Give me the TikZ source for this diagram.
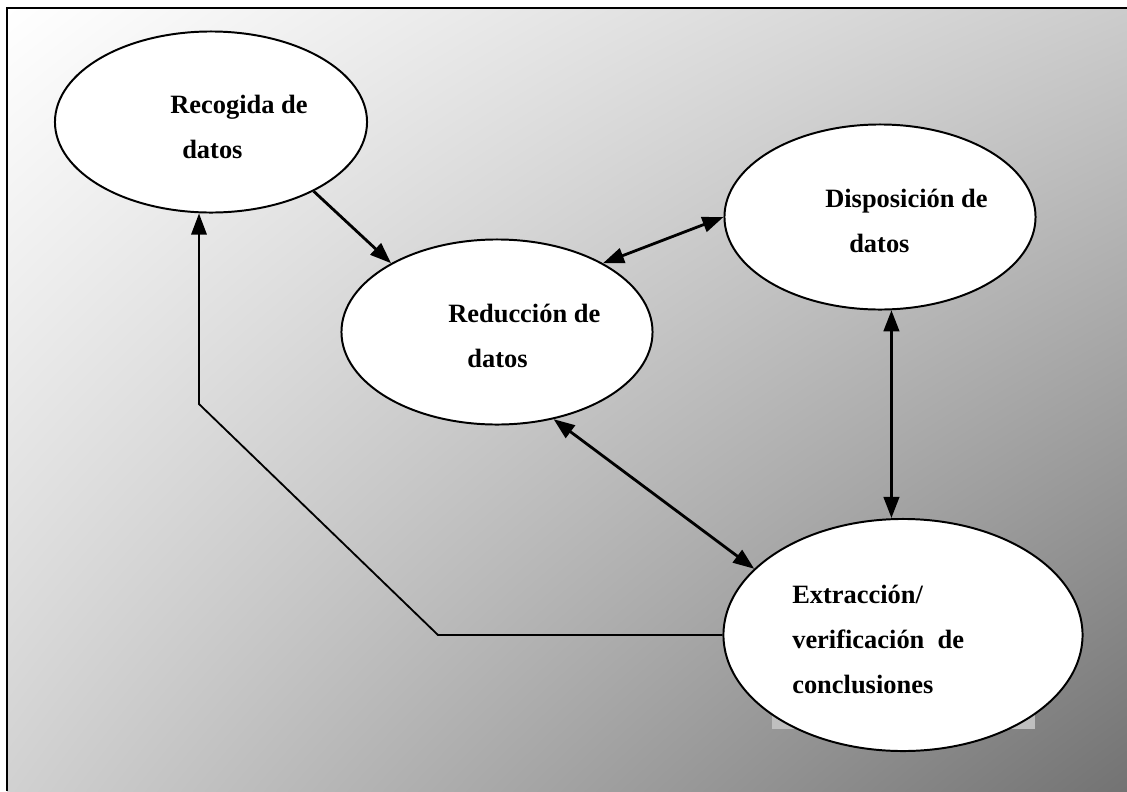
\documentclass[tikz,border=0pt]{standalone}
\usepackage{fontspec}
\setmainfont{Liberation Serif}
\usetikzlibrary{shapes.geometric,arrows.meta,shadings}

\begin{document}
\begin{tikzpicture}[x=0.025cm, y=-0.025cm, font=\fontsize{18.8}{32}\selectfont\bfseries,
    fase/.style={draw, ellipse, fill=white, line width=1.4pt, inner sep=0pt},
    rotulo/.style={anchor=base west, align=left, inner sep=0pt},
    punta/.style={-{Triangle[length=15pt,width=11pt]}},
    flecha/.style={line width=2pt, punta},
    dobleflecha/.style={line width=2pt, {Triangle[length=15pt,width=11pt]}-{Triangle[length=15pt,width=11pt]}}]
    \useasboundingbox (0,0) rectangle (1127,791);
    \shade[upper left=white, upper right=black!20, lower left=black!18, lower right=black!55] (7,8) rectangle (1127,791);
    \draw[line width=1.4pt] (7,791) -- (7,8) -- (1127,8);
    \fill[black!25] (772,715) rectangle (1035,729);
    \node[fase, minimum width=7.8cm, minimum height=4.525cm] (recogida) at (211,122) {};
    \node[fase, minimum width=7.775cm, minimum height=4.625cm] (disposicion) at (880,217) {};
    \node[fase, minimum width=7.775cm, minimum height=4.625cm] (reduccion) at (497,332) {};
    \node[fase, minimum width=8.975cm, minimum height=5.8cm] (extraccion) at (903,635) {};
    \node[rotulo] (recogida-txt) at (170,158) {Recogida de\\\hspace*{0.3cm}datos};
    \node[rotulo] (disposicion-txt) at (825,252) {Disposición de\\\hspace*{0.6cm}datos};
    \node[rotulo] (reduccion-txt) at (448,367) {Reducción de\\\hspace*{0.48cm}datos};
    \node[rotulo] (extraccion-txt) at (792,693) {Extracción/\\verificación\ \ de\\conclusiones};
    % conectores
    \draw[flecha] (recogida.-34) -- (reduccion.147);
    \draw[dobleflecha] (reduccion.33) -- (disposicion.180);
    \draw[dobleflecha] (disposicion.-83) -- (disposicion.-83 |- extraccion.north);
    \draw[dobleflecha] (reduccion.-57) -- (extraccion.156);
    \coordinate (codo1) at (438,635);
    \coordinate (codo2) at (199,404);
    \draw[line width=1.3pt, punta] (extraccion.west) -- (codo1) -- (codo2) -- (codo2 |- recogida.south);
\end{tikzpicture}
\end{document}
